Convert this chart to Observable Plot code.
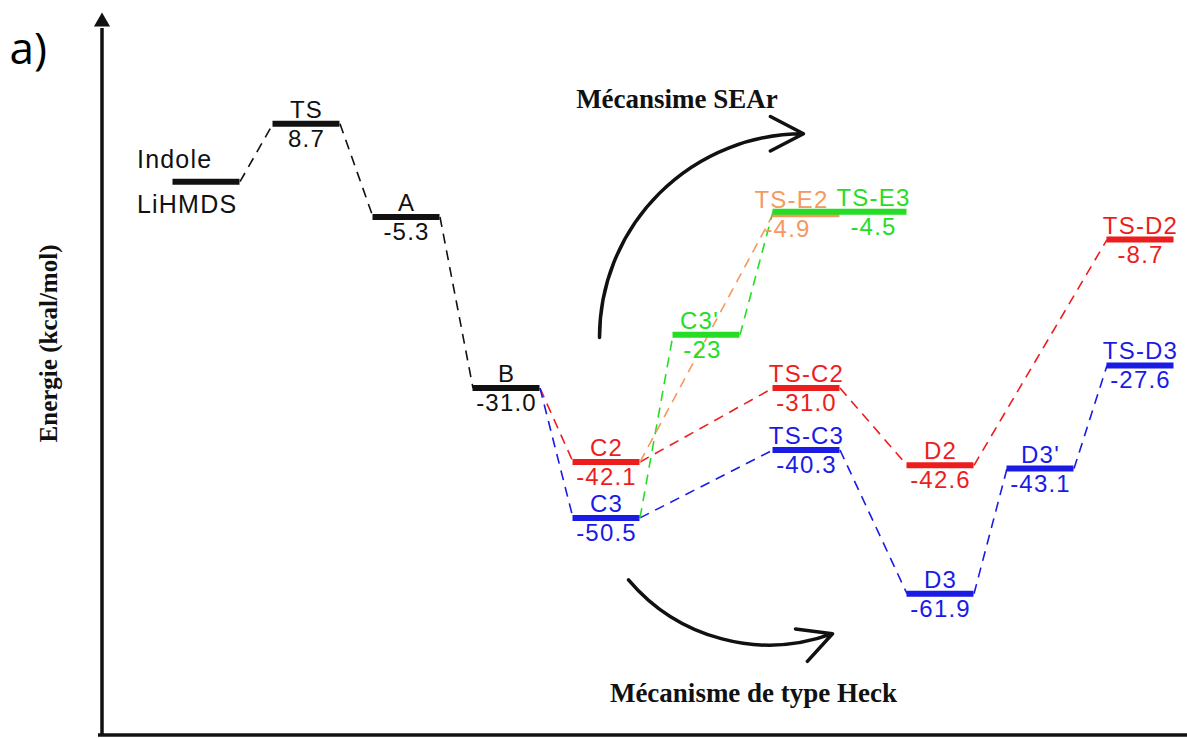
<!DOCTYPE html>
<html><head><meta charset="utf-8">
<script src="https://cdn.jsdelivr.net/npm/d3@7"></script>
<script src="https://cdn.jsdelivr.net/npm/@observablehq/plot@0.6"></script>
<style>
html,body{margin:0;padding:0;background:#fff;}
#chart svg{display:block;}
svg g[font-family^="Liberation Sans"] text{letter-spacing:1.2px;}
</style></head><body><div id="chart"></div>
<script>
// ---- data ----
const states = ["Indole","TS","A","B","C2","C3","C3'","TS-E2","TS-E3","TS-C2","TS-C3","D2","D3","D3'","TS-D2","TS-D3"];
const coord  = [0, 1, 2, 3, 4, 4, 5, 6, 6.67, 6, 6, 7.34, 7.34, 8.34, 9.34, 9.34]; // reaction coordinate
const energy = [0, 8.7, -5.3, -31.0, -42.1, -50.5, -23, -4.9, -4.5, -31.0, -40.3, -42.6, -61.9, -43.1, -8.7, -27.6];
const energyText = ["LiHMDS","8.7","-5.3","-31.0","-42.1","-50.5","-23","-4.9","-4.5","-31.0","-40.3","-42.6","-61.9","-43.1","-8.7","-27.6"];
const branch = ["common","common","common","common","C2","C3","SEAr-C3","SEAr-C2","SEAr-C3","C2","C3","C2","C3","C3","C2","C3"];
const barFrom = {"TS-E3": "TS-E2"}; // green TS-E3 level drawn across both TS-E positions
const linkFrom   = ["Indole","TS","A","B","B","C2","C3","C3","C2","C3'","TS-C2","TS-C3","D2","D3","D3'"];
const linkTo     = ["TS","A","B","C2","C3","TS-C2","TS-C3","C3'","TS-E2","TS-E3","D2","D3","TS-D2","D3'","TS-D3"];
const linkBranch = ["common","common","common","C2","C3","C2","C3","SEAr-C3","SEAr-C2","SEAr-C3","C2","C3","C2","C3","C3"];
const branchNames  = ["common","C2","C3","SEAr-C2","SEAr-C3"];
const branchColors = ["#111111","#ee1d1d","#1b1be6","#f5995f","#26dd26"];
const arrowLabels = ["Mécansime SEAr","Mécanisme de type Heck"];
const yTitle = "Energie (kcal/mol)";
const panelLabel = "a)";

// ---- build ----
const hw = 0.335;
const color = b => branchColors[branchNames.indexOf(b)];
const idx = s => states.indexOf(s);
const levels = states.map((s, i) => ({
  name: s, value: energyText[i], color: color(branch[i]),
  x: coord[i], y: energy[i],
  x1: coord[idx(barFrom[s] ?? s)] - hw, x2: coord[i] + hw
}));
const links = linkFrom.map((f, i) => {
  const a = levels[idx(f)], b = levels[idx(linkTo[i])];
  return {x1: a.x2, y1: a.y, x2: b.x1, y2: b.y, color: color(linkBranch[i])};
});
// annotation arrows (reaction coordinate / energy units)
const arrows = [
  {x1: 3.93, y1: -23.4, x2: 5.97, y2: 7.2, label: arrowLabels[0], lx: 4.705, ly: 11.0},
  {x1: 4.22, y1: -59.8, x2: 6.26, y2: -67.9, label: arrowLabels[1], lx: 5.47, ly: -78.2}
];
const axisX = -1.045, axisBottom = -83.1, axisTop = 24.0, xMin = -2.06, xMax = 9.81;

const sans = {fontFamily: "Liberation Sans, Arial, sans-serif", fontSize: 24};
const serif = {fontFamily: "Liberation Serif, Times New Roman, serif", fontSize: 27, fontWeight: "bold", fill: "#111"};
const special = ["Indole","TS-E2","C3'"];

const plot = Plot.plot({
  width: 1187, height: 738,
  marginTop: 0, marginRight: 0, marginBottom: 0, marginLeft: 0,
  x: {domain: [xMin, xMax], axis: null},
  y: {domain: [-83.64, 27.22], axis: null},
  marks: [
    // axes
    Plot.ruleY([axisBottom], {x1: axisX - 0.035, x2: xMax, stroke: "#111", strokeWidth: 3.5}),
    Plot.ruleX([axisX], {y1: axisBottom, y2: axisTop - 1, stroke: "#111", strokeWidth: 3.5}),
    Plot.dot([axisX], {x: d => d, y: () => axisTop, symbol: "triangle", r: 6, fill: "#111", stroke: null}),
    // dashed connectors
    Plot.link(links, {x1: "x1", y1: "y1", x2: "x2", y2: "y2", stroke: "color", strokeWidth: 1.6, strokeDasharray: "10,7"}),
    // levels
    Plot.ruleY(levels, {y: "y", x1: "x1", x2: "x2", stroke: "color", strokeWidth: 6}),
    // names above
    Plot.text(levels.filter(d => !special.includes(d.name)), {x: "x", y: "y", text: "name", fill: "color", lineAnchor: "bottom", dy: -6, ...sans}),
    Plot.text(levels.filter(d => d.name === "TS-E2"), {x: "x", y: "y", text: "name", fill: "color", lineAnchor: "bottom", dy: -6, dx: -15, ...sans}),
    Plot.text(levels.filter(d => d.name === "C3'"), {x: "x", y: "y", text: "name", fill: "color", lineAnchor: "bottom", dy: -6, dx: -7, ...sans}),
    Plot.text(levels.filter(d => d.name === "Indole"), {x: "x1", y: "y", text: "name", fill: "color", lineAnchor: "bottom", textAnchor: "start", dy: -14, dx: -36, fontSize: 25, fontFamily: sans.fontFamily}),
    // values below
    Plot.text(levels.filter(d => !special.includes(d.name)), {x: "x", y: "y", text: "value", fill: "color", lineAnchor: "top", dy: 6, ...sans}),
    Plot.text(levels.filter(d => d.name === "TS-E2"), {x: "x", y: "y", text: "value", fill: "color", lineAnchor: "top", dy: 6, dx: -19, ...sans}),
    Plot.text(levels.filter(d => d.name === "C3'"), {x: "x", y: "y", text: "value", fill: "color", lineAnchor: "top", dy: 6, dx: -4, ...sans}),
    Plot.text(levels.filter(d => d.name === "Indole"), {x: "x1", y: "y", text: "value", fill: "color", lineAnchor: "top", textAnchor: "start", dy: 14, dx: -36, fontSize: 25, fontFamily: sans.fontFamily}),
    // mechanism arrows
    Plot.arrow(arrows.slice(0, 1), {x1: "x1", y1: "y1", x2: "x2", y2: "y2", bend: 45, stroke: "#111", strokeWidth: 3.5, headLength: 16, headAngle: 55}),
    Plot.arrow(arrows.slice(1), {x1: "x1", y1: "y1", x2: "x2", y2: "y2", bend: -35, stroke: "#111", strokeWidth: 3.5, headLength: 16, headAngle: 55}),
    Plot.text(arrows, {x: "lx", y: "ly", text: "label", lineAnchor: "bottom", ...serif}),
    // y title
    Plot.text([yTitle], {x: () => -1.58, y: () => -24.3, text: d => d, rotate: -90, ...serif, fontSize: 25}),
    // panel label
    Plot.text([panelLabel], {frameAnchor: "top-left", textAnchor: "start", lineAnchor: "bottom", dx: 9, dy: 63, fontFamily: "Open Sans, sans-serif", fontSize: 44, fill: "#000"})
  ]
});
document.getElementById("chart").appendChild(plot);
</script></body></html>
